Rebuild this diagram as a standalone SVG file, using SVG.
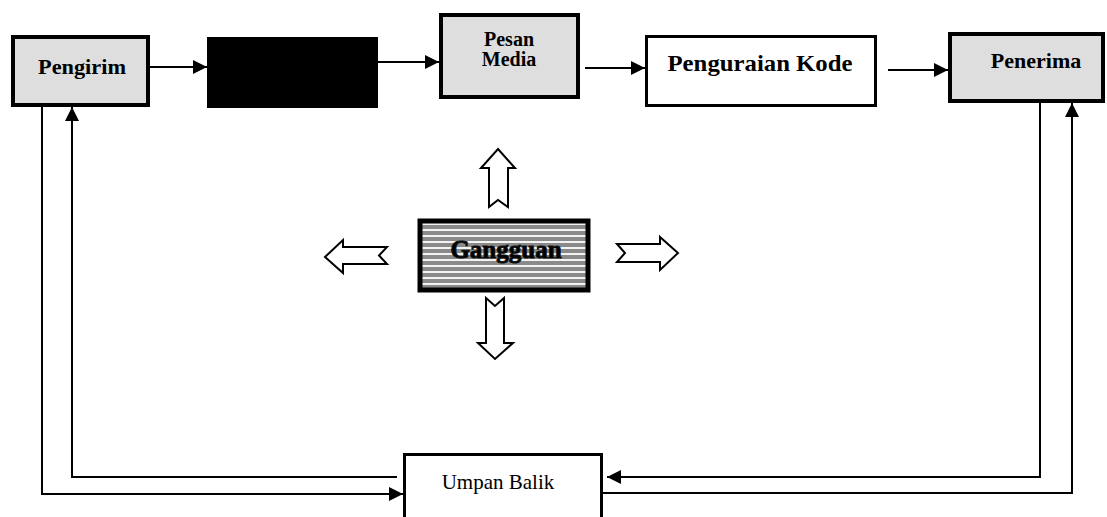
<svg xmlns="http://www.w3.org/2000/svg" width="1107" height="517" viewBox="0 0 1107 517">
<style>
.box{stroke:#000;stroke-width:4;}
.thin{stroke:#000;stroke-width:3;fill:#fff;}
.grey{fill:#dedede;}
.lbl{font-family:"Liberation Serif","Times New Roman",serif;font-weight:bold;fill:#000;text-anchor:middle;}
.reg{font-family:"Liberation Serif","Times New Roman",serif;fill:#000;text-anchor:middle;}
.ln{fill:none;stroke:#000;stroke-width:2;}
.hollow{fill:#fff;stroke:#000;stroke-width:2;stroke-linejoin:miter;}
</style>
<defs>
<marker id="ah" markerUnits="userSpaceOnUse" markerWidth="15" markerHeight="14" refX="14" refY="7" orient="auto">
<path d="M0,0 L14,7 L0,14 z" fill="#000"/>
</marker>
<pattern id="streak" patternUnits="userSpaceOnUse" width="12" height="6">
<rect width="12" height="6" fill="#8a8a8a"/>
<rect y="1" width="12" height="2" fill="#f2f2f2"/>
</pattern>
</defs>
<rect width="1107" height="517" fill="#fff"/>

<g id="connectors">
<path class="ln" d="M150,67 H207" marker-end="url(#ah)"/>
<path class="ln" d="M378,62 H439" marker-end="url(#ah)"/>
<path class="ln" d="M585,68 H645" marker-end="url(#ah)"/>
<path class="ln" d="M888,70 H948" marker-end="url(#ah)"/>
<path class="ln" d="M42,107 V494 H403" marker-end="url(#ah)"/>
<path class="ln" d="M397,477 H72 V107" marker-end="url(#ah)"/>
<path class="ln" d="M1040,103 V477 H607" marker-end="url(#ah)"/>
<path class="ln" d="M603,493 H1072 V103" marker-end="url(#ah)"/>
<polygon class="hollow" points="498,149 515,168 508,168 508,207 498,200 489,207 489,168 481,168"/>
<polygon class="hollow" points="325,257 343,240 343,247 387,247 379,255.5 387,264 343,264 343,273"/>
<polygon class="hollow" points="617,244 660,244 660,237 678,253 660,270 660,262 617,262 625,253"/>
<polygon class="hollow" points="486,298 495,306 504,298 504,343 513,343 495,359 478,343 486,343"/>
</g>

<g id="pengirim">
<rect class="box grey" x="13" y="37" width="135" height="68"/>
<text class="lbl" x="82" y="74" font-size="22" textLength="88" lengthAdjust="spacingAndGlyphs">Pengirim</text>
</g>

<g id="encoder">
<rect x="207" y="37" width="171" height="71" fill="#000"/>
</g>

<g id="pesan-media">
<rect class="box grey" x="441" y="15" width="137" height="82"/>
<text class="lbl" x="509" y="46" font-size="20">Pesan</text>
<text class="lbl" x="509" y="66" font-size="20">Media</text>
</g>

<g id="penguraian-kode">
<rect class="thin" x="646.5" y="36.5" width="229" height="69"/>
<text class="lbl" x="760" y="71" font-size="23" textLength="185" lengthAdjust="spacingAndGlyphs">Penguraian Kode</text>
</g>

<g id="penerima">
<rect class="box grey" x="950" y="34" width="153" height="67"/>
<text class="lbl" x="1036" y="68" font-size="22">Penerima</text>
</g>

<g id="gangguan">
<rect x="420" y="221" width="168" height="69" fill="url(#streak)" stroke="#000" stroke-width="5"/>
<text class="lbl" x="506" y="258" font-size="25" fill="#111" stroke="#111" stroke-width="1">Gangguan</text>
</g>

<g id="umpan-balik">
<rect class="thin" x="404.5" y="454.5" width="197" height="70"/>
<text class="reg" x="498" y="489" font-size="21">Umpan Balik</text>
</g>
</svg>
